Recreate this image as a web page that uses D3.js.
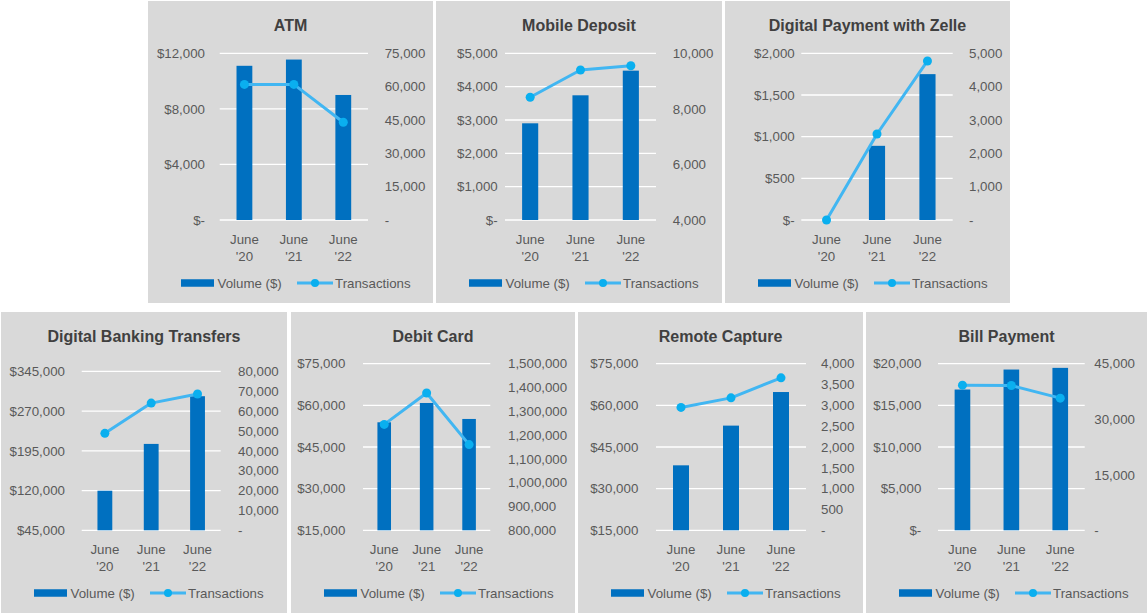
<!DOCTYPE html>
<html><head><meta charset="utf-8">
<script src="https://cdn.jsdelivr.net/npm/d3@7"></script>
<style>
body{margin:0;background:#fff}
svg{display:block}
text{font-family:"Liberation Sans",Arial,sans-serif}
</style>
</head><body>
<svg id="c" width="1148" height="615"></svg>
<script>
// ---------- DATA ----------
const categories = ["June '20", "June '21", "June '22"];
const titles = ["ATM", "Mobile Deposit", "Digital Payment with Zelle", "Digital Banking Transfers", "Debit Card", "Remote Capture", "Bill Payment"];
const legendLabels = ["Volume ($)", "Transactions"];

const atmVolume = [11100, 11550, 9000];
const atmTransactions = [61000, 61000, 44000];
const atmLeftTicks = [0, 4000, 8000, 12000];
const atmRightTicks = [0, 15000, 30000, 45000, 60000, 75000];

const mobileVolume = [2900, 3740, 4480];
const mobileTransactions = [8420, 9400, 9550];
const mobileLeftTicks = [0, 1000, 2000, 3000, 4000, 5000];
const mobileRightTicks = [4000, 6000, 8000, 10000];

const zelleVolume = [0, 890, 1750];
const zelleTransactions = [0, 2580, 4770];
const zelleLeftTicks = [0, 500, 1000, 1500, 2000];
const zelleRightTicks = [0, 1000, 2000, 3000, 4000, 5000];

const dbtVolume = [119700, 208000, 298000];
const dbtTransactions = [48800, 64000, 68600];
const dbtLeftTicks = [45000, 120000, 195000, 270000, 345000];
const dbtRightTicks = [0, 10000, 20000, 30000, 40000, 50000, 60000, 70000, 80000];

const debitVolume = [53900, 60850, 55100];
const debitTransactions = [1245000, 1377000, 1160000];
const debitLeftTicks = [15000, 30000, 45000, 60000, 75000];
const debitRightTicks = [800000, 900000, 1000000, 1100000, 1200000, 1300000, 1400000, 1500000];

const remoteVolume = [38400, 52700, 64800];
const remoteTransactions = [2950, 3180, 3660];
const remoteLeftTicks = [15000, 30000, 45000, 60000, 75000];
const remoteRightTicks = [0, 500, 1000, 1500, 2000, 2500, 3000, 3500, 4000];

const billVolume = [16900, 19300, 19500];
const billTransactions = [39200, 39100, 35700];
const billLeftTicks = [0, 5000, 10000, 15000, 20000];
const billRightTicks = [0, 15000, 30000, 45000];

const seriesVolume = [atmVolume, mobileVolume, zelleVolume, dbtVolume, debitVolume, remoteVolume, billVolume];
const seriesTransactions = [atmTransactions, mobileTransactions, zelleTransactions, dbtTransactions, debitTransactions, remoteTransactions, billTransactions];
const leftTicks = [atmLeftTicks, mobileLeftTicks, zelleLeftTicks, dbtLeftTicks, debitLeftTicks, remoteLeftTicks, billLeftTicks];
const rightTicks = [atmRightTicks, mobileRightTicks, zelleRightTicks, dbtRightTicks, debitRightTicks, remoteRightTicks, billRightTicks];

// ---------- LAYOUT (positions only) ----------
const layout = [
  {x:148, y:1,   w:285, h:302, pl:71.7, pr:220,   pt:52.3, pb:219,   ll:57,   rl:236.7},
  {x:436, y:1,   w:286, h:302, pl:69,   pr:220,   pt:52.3, pb:219,   ll:61.7, rl:236.7},
  {x:725, y:1,   w:285, h:302, pl:76.3, pr:227.7, pt:52.3, pb:219,   ll:69.7, rl:244},
  {x:1,   y:312, w:286, h:301, pl:80.7, pr:219.7, pt:59.3, pb:218.3, ll:64,   rl:237},
  {x:291, y:312, w:284, h:301, pl:72,   pr:199.3, pt:51.7, pb:218.3, ll:54.3, rl:217},
  {x:578, y:312, w:285, h:301, pl:78,   pr:228,   pt:51.7, pb:218.3, ll:60.3, rl:243},
  {x:866, y:312, w:281, h:301, pl:72,   pr:218.7, pt:51.7, pb:218.3, ll:55.3, rl:228.3}
];

const BAR = "#0070C0", LINE = "#41B6F2", DOT = "#0AAFEF", PANEL = "#D9D9D9";
const TXT = "#595959", TITLE = "#404040";
const fmtNum = d3.format(",");
const fmtLeft = d => d === 0 ? "$-" : "$" + fmtNum(d);
const fmtRight = d => d === 0 ? "-" : fmtNum(d);

const svg = d3.select("#c");

layout.forEach((L, i) => {
  const g = svg.append("g").attr("transform", `translate(${L.x},${L.y})`);
  g.append("rect").attr("width", L.w).attr("height", L.h).attr("fill", PANEL);

  const lt = leftTicks[i], rt = rightTicks[i];
  const x = d3.scaleBand().domain(categories).range([L.pl, L.pr]).paddingInner(0.68).paddingOuter(0.34);
  const yL = d3.scaleLinear().domain([d3.min(lt), d3.max(lt)]).range([L.pb, L.pt]);
  const yR = d3.scaleLinear().domain([d3.min(rt), d3.max(rt)]).range([L.pb, L.pt]);

  // title
  g.append("text").attr("x", L.w / 2).attr("y", 24).attr("dy", "0.35em")
    .attr("text-anchor", "middle").attr("font-size", 16).attr("font-weight", "bold")
    .attr("fill", TITLE).text(titles[i]);

  // gridlines
  g.append("g").selectAll("line").data(lt).join("line")
    .attr("x1", L.pl).attr("x2", L.pr)
    .attr("y1", d => yL(d)).attr("y2", d => yL(d))
    .attr("stroke", "#fff").attr("stroke-width", 1.3);

  // left axis
  const axL = g.append("g").attr("transform", `translate(${L.ll},0)`)
    .call(d3.axisLeft(yL).tickValues(lt).tickFormat(fmtLeft).tickSize(0).tickPadding(0));
  axL.select(".domain").remove();
  axL.selectAll("text").attr("font-size", 13.3).attr("fill", TXT)
    .attr("font-family", "'Liberation Sans',Arial,sans-serif");

  // right axis
  const axR = g.append("g").attr("transform", `translate(${L.rl},0)`)
    .call(d3.axisRight(yR).tickValues(rt).tickFormat(fmtRight).tickSize(0).tickPadding(0));
  axR.select(".domain").remove();
  axR.selectAll("text").attr("font-size", 13.3).attr("fill", TXT)
    .attr("font-family", "'Liberation Sans',Arial,sans-serif");

  // bars
  const vol = seriesVolume[i];
  g.append("g").selectAll("rect").data(categories).join("rect")
    .attr("x", d => x(d))
    .attr("width", x.bandwidth())
    .attr("y", (d, j) => yL(vol[j]))
    .attr("height", (d, j) => yL(yL.domain()[0]) - yL(vol[j]))
    .attr("fill", BAR);

  // line
  const trx = seriesTransactions[i];
  const cx = d => x(d) + x.bandwidth() / 2;
  g.append("path").datum(categories)
    .attr("d", d3.line().x(cx).y((d, j) => yR(trx[j])))
    .attr("fill", "none").attr("stroke", LINE).attr("stroke-width", 3).attr("stroke-linejoin", "round");
  g.append("g").selectAll("circle").data(categories).join("circle")
    .attr("cx", cx).attr("cy", (d, j) => yR(trx[j])).attr("r", 4.5).attr("fill", DOT);

  // x labels
  const xl = g.append("g").selectAll("text").data(categories).join("text")
    .attr("text-anchor", "middle").attr("font-size", 13.3).attr("fill", TXT);
  xl.append("tspan").attr("x", cx).attr("y", L.pb + 19).attr("dy", "0.35em").text(d => d.split(" ")[0]);
  xl.append("tspan").attr("x", cx).attr("y", L.pb + 36).attr("dy", "0.35em").text(d => d.split(" ")[1]);

  // legend
  const ly = L.h - 20;
  const lg = g.append("g");
  lg.append("rect").attr("x", 33).attr("y", ly - 3.75).attr("width", 33).attr("height", 7.5).attr("fill", BAR);
  lg.append("text").attr("x", 36.5).attr("dx", 33).attr("y", ly).attr("dy", "0.35em")
    .attr("font-size", 13.3).attr("fill", TXT).text(legendLabels[0]);
  lg.append("line").attr("x1", 149).attr("x2", 185).attr("y1", ly).attr("y2", ly)
    .attr("stroke", LINE).attr("stroke-width", 3);
  lg.append("circle").attr("cx", 167).attr("cy", ly).attr("r", 4).attr("fill", DOT);
  lg.append("text").attr("x", 187).attr("y", ly).attr("dy", "0.35em")
    .attr("font-size", 13.3).attr("fill", TXT).text(legendLabels[1]);
});
</script>
</body></html>
